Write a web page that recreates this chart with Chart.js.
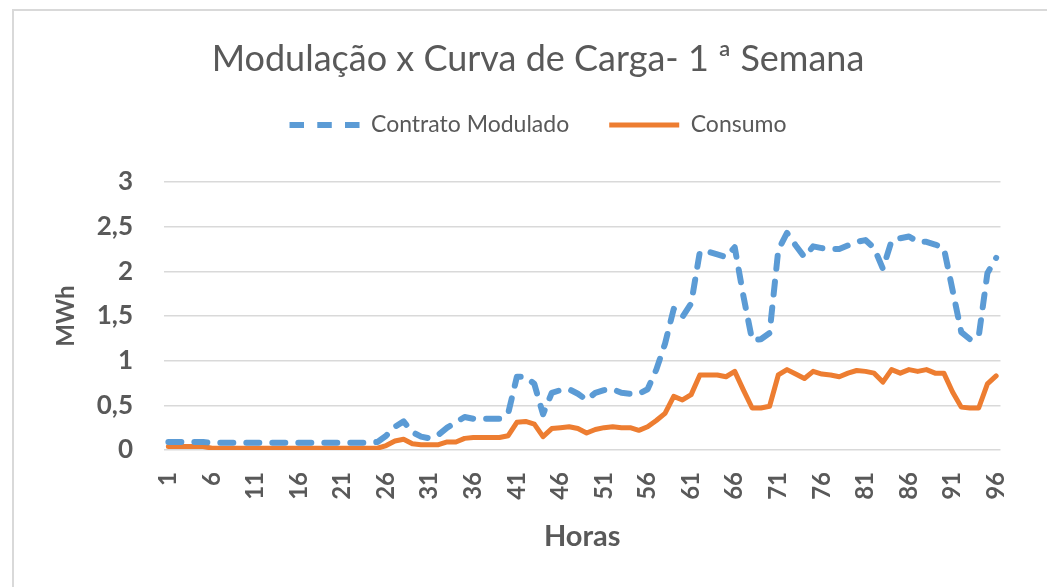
<!DOCTYPE html>
<html>
<head>
<meta charset="utf-8">
<script src="https://cdn.jsdelivr.net/npm/chart.js@4.4.1/dist/chart.umd.min.js"></script>
<style>
  html, body { margin: 0; padding: 0; background: #ffffff; }
  #wrap { position: relative; width: 1047px; height: 587px; overflow: hidden; }
  #frame { position: absolute; left: 12px; top: 9px; width: 2000px; height: 2000px;
           border-left: 2px solid #d9d9d9; border-top: 2px solid #d9d9d9; pointer-events: none; }
  canvas { position: absolute; left: 0; top: 0; }
</style>
</head>
<body>
<div id="wrap">
  <canvas id="c" width="1047" height="587"></canvas>
  <div id="frame"></div>
</div>
<script>
const chartTitle = 'Modulação x Curva de Carga- 1 ª Semana';
const seriesNames = ['Contrato Modulado', 'Consumo'];
const yAxisTitle = 'MWh';
const xAxisTitle = 'Horas';
const yTickLabels = ['0', '0,5', '1', '1,5', '2', '2,5', '3'];

const horas = [1,2,3,4,5,6,7,8,9,10,11,12,13,14,15,16,17,18,19,20,21,22,23,24,
  25,26,27,28,29,30,31,32,33,34,35,36,37,38,39,40,41,42,43,44,45,46,47,48,
  49,50,51,52,53,54,55,56,57,58,59,60,61,62,63,64,65,66,67,68,69,70,71,72,
  73,74,75,76,77,78,79,80,81,82,83,84,85,86,87,88,89,90,91,92,93,94,95,96];

const contratoModulado = [
  0.09,0.09,0.09,0.09,0.09,0.08,0.08,0.08,0.08,0.08,0.08,0.08,
  0.08,0.08,0.08,0.08,0.08,0.08,0.08,0.08,0.08,0.08,0.08,0.08,
  0.09,0.16,0.26,0.32,0.20,0.15,0.13,0.17,0.25,0.31,0.37,0.35,
  0.35,0.35,0.35,0.41,0.82,0.82,0.74,0.40,0.64,0.67,0.68,0.63,
  0.56,0.64,0.67,0.68,0.64,0.63,0.63,0.68,0.90,1.19,1.58,1.49,
  1.64,2.22,2.22,2.19,2.16,2.27,1.72,1.23,1.24,1.31,2.24,2.43,
  2.29,2.16,2.28,2.26,2.25,2.25,2.29,2.33,2.35,2.26,2.03,2.34,
  2.37,2.39,2.33,2.33,2.30,2.26,1.79,1.32,1.24,1.27,1.98,2.15
];

const consumo = [
  0.04,0.04,0.04,0.04,0.04,0.02,0.02,0.02,0.02,0.02,0.02,0.02,
  0.02,0.02,0.02,0.02,0.02,0.02,0.02,0.02,0.02,0.02,0.02,0.02,
  0.02,0.05,0.10,0.12,0.07,0.06,0.06,0.06,0.09,0.09,0.13,0.14,
  0.14,0.14,0.14,0.16,0.31,0.32,0.29,0.15,0.24,0.25,0.26,0.24,
  0.19,0.23,0.25,0.26,0.25,0.25,0.22,0.26,0.33,0.41,0.60,0.56,
  0.62,0.84,0.84,0.84,0.82,0.88,0.67,0.47,0.47,0.49,0.84,0.90,
  0.85,0.80,0.88,0.85,0.84,0.82,0.86,0.89,0.88,0.86,0.76,0.90,
  0.86,0.90,0.88,0.90,0.86,0.86,0.65,0.48,0.47,0.47,0.74,0.83
];

const FONT = 'Lato, "Noto Sans", sans-serif';
const GRAY = '#595959';
const plotDash = [13, 13];
const legendDash = [14.5, 13.25];

// empty layout box placed between the legend and the plot area
const legendSpacer = {
  id: 'legendSpacer',
  beforeInit(chart) {
    const box = {
      position: 'top', weight: 500, fullSize: true,
      options: {},
      left: 0, top: 0, right: 0, bottom: 0, width: 0, height: 0,
      isHorizontal() { return true; },
      update(maxWidth) { this.width = maxWidth; this.height = 35.5; return this.height; },
      draw() {}
    };
    Chart.layouts.addBox(chart, box);
  }
};

new Chart(document.getElementById('c'), {
  type: 'line',
  plugins: [legendSpacer],
  data: {
    labels: horas,
    datasets: [
      {
        label: seriesNames[0],
        data: contratoModulado,
        borderColor: '#5B9BD5',
        backgroundColor: '#5B9BD5',
        borderWidth: 6,
        borderDash: plotDash,
        borderCapStyle: 'round',
        borderJoinStyle: 'round',
        pointRadius: 0,
        pointStyle: 'line',
        tension: 0,
        fill: false
      },
      {
        label: seriesNames[1],
        data: consumo,
        borderColor: '#ED7D31',
        backgroundColor: '#ED7D31',
        borderWidth: 5,
        borderCapStyle: 'round',
        borderJoinStyle: 'round',
        pointRadius: 0,
        pointStyle: 'line',
        tension: 0,
        fill: false
      }
    ]
  },
  options: {
    responsive: false,
    animation: false,
    layout: { padding: { left: 43, right: 14, top: 0, bottom: 0 } },
    plugins: {
      tooltip: { enabled: false },
      title: {
        display: true,
        text: chartTitle,
        color: GRAY,
        font: { family: FONT, size: 36, weight: 'normal' },
        padding: { top: 38, bottom: -7.7 }
      },
      legend: {
        display: true,
        position: 'top',
        labels: {
          usePointStyle: true,
          pointStyleWidth: 70,
          boxHeight: 10,
          padding: 40,
          color: GRAY,
          font: { family: FONT, size: 23 },
          generateLabels(chart) {
            const items = Chart.defaults.plugins.legend.labels.generateLabels(chart);
            items[0].lineDash = legendDash;
            return items;
          }
        }
      }
    },
    scales: {
      x: {
        type: 'category',
        offset: true,
        grid: { display: false, drawTicks: false },
        border: { display: false },
        ticks: {
          autoSkip: false,
          minRotation: 90,
          maxRotation: 90,
          padding: 22,
          color: GRAY,
          font: { family: FONT, size: 24, weight: 'bold' },
          callback: function (v, i) { return i % 5 === 0 ? String(horas[i]) : null; }
        },
        title: {
          display: true,
          text: xAxisTitle,
          color: GRAY,
          font: { family: FONT, size: 29, weight: 'bold' },
          padding: { top: 0, bottom: 33 }
        },
        afterFit: function (scale) { scale.height = 137; }
      },
      y: {
        min: 0,
        max: 3,
        grid: { color: '#d9d9d9', lineWidth: 1.5, drawTicks: false },
        border: { display: false },
        ticks: {
          stepSize: 0.5,
          padding: 31,
          color: GRAY,
          font: { family: FONT, size: 26, weight: 'bold' },
          callback: function (v, i) { return yTickLabels[i]; }
        },
        title: {
          display: true,
          text: yAxisTitle,
          color: GRAY,
          font: { family: FONT, size: 24, weight: 'bold' },
          padding: { top: 9, bottom: 0 }
        },
        afterFit: function (scale) { scale.width = 121; scale.paddingTop = 182; }
      }
    }
  }
});
</script>
</body>
</html>
